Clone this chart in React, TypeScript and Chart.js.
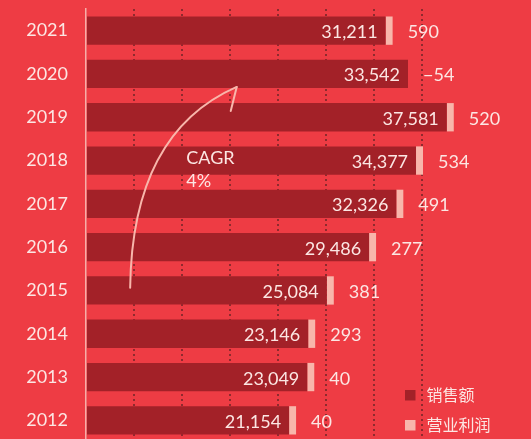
import React, { useEffect, useRef } from 'react';
import { Chart, registerables } from 'chart.js';

Chart.register(...registerables);

// ---- data ----
const years = ['2021', '2020', '2019', '2018', '2017', '2016', '2015', '2014', '2013', '2012'];
const sales = [31211, 33542, 37581, 34377, 32326, 29486, 25084, 23146, 23049, 21154];
const profit = [590, -54, 520, 534, 491, 277, 381, 293, 40, 40];
const seriesNames = ['销售额', '营业利润'];
const cagrText = ['CAGR', '4%'];
const xMax = 40000;
const xStep = 5000;

// ---- style ----
const BG = '#ee3c44';
const DARK = '#a32128';
const PINK = '#f8b6ab';
const TEXT = '#fce6e3';
const GRID = '#8e2a2e';
const AXIS = '#f6aea8';
const NUM_FONT = '18px Lato, Roboto, sans-serif';
const CJK_FONT = '16px "Noto Sans CJK SC", sans-serif';

const fmt = (v: number) => {
  const s = Math.abs(v).toLocaleString('en-US');
  return v < 0 ? '\u2212' + s : s;
};

const overlayPlugin = {
  id: 'overlay',
  afterDatasetsDraw(chart: any) {
    const { ctx, chartArea } = chart;
    const xs = chart.scales.x;
    const ys = chart.scales.y;
    const band = ys.getPixelForValue(1) - ys.getPixelForValue(0);
    const m0 = chart.getDatasetMeta(0);
    const m1 = chart.getDatasetMeta(1);
    ctx.save();
    // value labels
    ctx.font = NUM_FONT;
    ctx.fillStyle = TEXT;
    ctx.textBaseline = 'alphabetic';
    m0.data.forEach((bar: any, i: number) => {
      ctx.textAlign = 'right';
      ctx.fillText(fmt(sales[i]), bar.x - 8, bar.y + 7.5);
      const end = Math.max(bar.x, m1.data[i].x);
      ctx.textAlign = 'left';
      ctx.fillText(fmt(profit[i]), end + 15, bar.y + 7.5);
    });

    // CAGR arrow (anchored to the scales)
    const pt = (xv: number, cat: number, off: number) => ({
      x: xs.getPixelForValue(xv),
      y: ys.getPixelForValue(cat) + off * band,
    });
    const p0 = pt(4600, 6, -0.06);
    const p1 = pt(4800, 2, 0.36);
    const p2 = pt(15700, 1, 0.3);
    ctx.strokeStyle = PINK;
    ctx.lineWidth = 2;
    ctx.lineCap = 'round';
    ctx.beginPath();
    ctx.moveTo(p0.x, p0.y);
    ctx.quadraticCurveTo(p1.x, p1.y, p2.x, p2.y);
    ctx.stroke();
    ctx.beginPath();
    ctx.moveTo(p2.x, p2.y);
    ctx.lineTo(p2.x - 6, p2.y + 24);
    ctx.stroke();

    // CAGR text
    const tp = pt(10450, 3, 0.07);
    ctx.font = NUM_FONT;
    ctx.fillStyle = TEXT;
    ctx.textAlign = 'left';
    ctx.fillText(cagrText[0], tp.x, tp.y);
    ctx.fillText(cagrText[1], tp.x, tp.y + 23.5);

    // legend
    const colors = [DARK, PINK];
    ctx.font = CJK_FONT;
    ctx.textBaseline = 'middle';
    seriesNames.forEach((name, i) => {
      const sx = chartArea.right - 65;
      const sy = chartArea.bottom - 52 + i * 30;
      ctx.fillStyle = colors[i];
      ctx.fillRect(sx, sy, 10.5, 10.5);
      ctx.fillStyle = TEXT;
      ctx.fillText(name, sx + 21.5, sy + 4.5);
    });
    ctx.restore();
  },
};

export default function App() {
  const ref = useRef<HTMLCanvasElement>(null);
  useEffect(() => {
    if (!ref.current) return;
    const chart = new Chart(ref.current, {
      type: 'bar',
      data: {
        labels: years,
        datasets: [
          {
            label: seriesNames[0],
            data: sales,
            backgroundColor: DARK,
            barPercentage: 0.654,
            categoryPercentage: 1,
          },
          {
            label: seriesNames[1],
            data: profit,
            backgroundColor: PINK,
            barPercentage: 0.654,
            categoryPercentage: 1,
            minBarLength: 7,
          },
        ],
      },
      options: {
        indexAxis: 'y',
        animation: false,
        responsive: true,
        maintainAspectRatio: false,
        devicePixelRatio: 1,
        layout: { padding: { top: 9, right: 61, bottom: 0, left: 0 } },
        plugins: {
          legend: { display: false },
          tooltip: { enabled: false },
        },
        scales: {
          x: {
            stacked: true,
            min: 0,
            max: xMax,
            ticks: { display: false, stepSize: xStep },
            border: { display: false, dash: [2, 3] },
            grid: {
              drawTicks: false,
              lineWidth: 2,
              color: (c: any) =>
                c.tick && c.tick.value > 0 && c.tick.value < xMax ? GRID : 'rgba(0,0,0,0)',
            },
            afterFit: (s: any) => {
              s.height = 0;
              s.paddingLeft = 0;
              s.paddingRight = 0;
            },
          } as any,
          y: {
            stacked: true,
            grid: { display: false, drawTicks: false },
            border: { display: true, color: AXIS, width: 1.5 },
            ticks: {
              color: TEXT,
              font: { family: 'Lato, Roboto, sans-serif', size: 18 },
              padding: 18,
            },
            afterFit: (s: any) => {
              s.width = 86;
              s.paddingTop = 0;
              s.paddingBottom = 0;
            },
          } as any,
        },
      },
      plugins: [overlayPlugin],
    } as any);
    return () => chart.destroy();
  }, []);
  return (
    <div
      style={{
        position: 'fixed',
        left: 0,
        top: 0,
        width: 531,
        height: 442,
        background: BG,
      }}
    >
      <canvas ref={ref} />
    </div>
  );
}
